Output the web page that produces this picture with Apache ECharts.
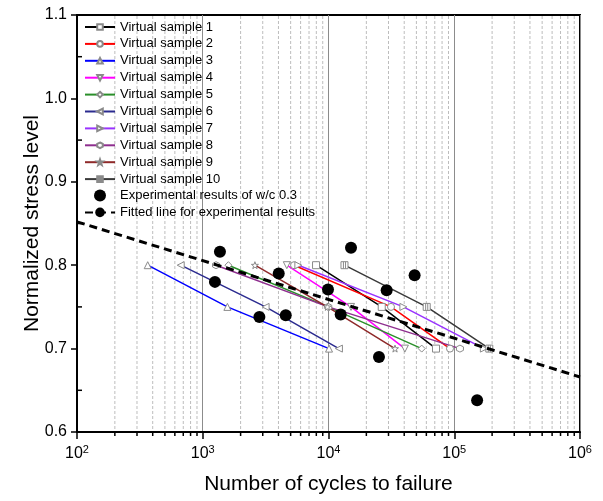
<!DOCTYPE html>
<html>
<head>
<meta charset="utf-8">
<script src="https://cdn.jsdelivr.net/npm/echarts@6/dist/echarts.min.js"></script>
<style>html,body{margin:0;padding:0;background:#fff}#c{width:603px;height:501px}</style>
</head>
<body>
<div id="c"></div>
<script>
// ---- data ----
const stressLevels = [0.8, 0.75, 0.7];
const sampleNames = ['Virtual sample 1','Virtual sample 2','Virtual sample 3','Virtual sample 4','Virtual sample 5','Virtual sample 6','Virtual sample 7','Virtual sample 8','Virtual sample 9','Virtual sample 10'];
const s1 = [7960, 26500, 71600];
const s2 = [5320, 31400, 92500];
const s3 = [365, 1570, 10100];
const s4 = [4660, 15100, 40500];
const s5 = [1600, 9950, 55100];
const s6 = [668, 3160, 12100];
const s7 = [5760, 39400, 172000];
const s8 = [1275, 9950, 111000];
const s9 = [2600, 9800, 33800];
const s10 = [13400, 60400, 190000];
const expName = 'Experimental results of w/c 0.3';
const expCycles = [1370, 1250, 2820, 4570, 4020, 9910, 12500, 15100, 48400, 29000, 25200, 152000];
const expStress = [0.816, 0.780, 0.738, 0.740, 0.790, 0.771, 0.741, 0.821, 0.788, 0.770, 0.690, 0.638];
const fitName = 'Fitted line for experimental results';
const fitCycles = [100, 1000000];
const fitStress = [0.852, 0.666];
const xMinorTickValues = [200,300,400,500,600,700,800,900,2000,3000,4000,5000,6000,7000,8000,9000,20000,30000,40000,50000,60000,70000,80000,90000,200000,300000,400000,500000,600000,700000,800000,900000];
const yMinorTickValues = [0.65, 0.75, 0.85, 0.95, 1.05];
const superscripts = {100:'2',1000:'3',10000:'4',100000:'5',1000000:'6'};

// ---- styles ----
const colors = ['#000000','#ff0000','#0000ff','#ff00ff','#2a8f2a','#2b2b8f','#9933ff','#8f2f8f','#8f2a2a','#3a3a3a'];
const symbols = [
  'rect','circle','triangle',
  'path://M-10,-9 L10,-9 L0,9 Z',
  'diamond',
  'path://M-9,0 L9,-10 L9,10 Z',
  'path://M9,0 L-9,-10 L-9,10 Z',
  'path://M0,-10 L8.66,-5 L8.66,5 L0,10 L-8.66,5 L-8.66,-5 Z',
  'path://M0,-10 L2.35,-3.24 L9.51,-3.09 L3.8,1.24 L5.88,8.09 L0,4 L-5.88,8.09 L-3.8,1.24 L-9.51,-3.09 L-2.35,-3.24 Z',
  'path://M-10,-10 L10,-10 L10,10 L-10,10 Z M-3,-10 L-3,10 M3,-10 L3,10'
];
const samples = [s1,s2,s3,s4,s5,s6,s7,s8,s9,s10];
const FONT = '"Liberation Sans", Arial, sans-serif';

const series = [];
series.push({
  type: 'custom', name: 'xMinor', silent: true, clip: false, z: 1,
  data: xMinorTickValues.map(v => [v]),
  encode: {x: 0},
  renderItem: function (params, api) {
    const x = api.value(0);
    const top = api.coord([x, 1.1]);
    const bot = api.coord([x, 0.6]);
    return {type: 'group', children: [
      {type: 'line', shape: {x1: top[0], y1: top[1] + 1, x2: bot[0], y2: bot[1] - 1},
       style: {stroke: '#bdbdbd', lineWidth: 1, lineDash: [3, 2]}},
      {type: 'line', shape: {x1: bot[0], y1: bot[1], x2: bot[0], y2: bot[1] + 4},
       style: {stroke: '#000', lineWidth: 1.5}}
    ]};
  }
});
series.push({
  type: 'custom', name: 'yMinor', silent: true, clip: false, z: 6,
  data: yMinorTickValues.map(v => [100, v]),
  encode: {x: 0, y: 1},
  renderItem: function (params, api) {
    const p = api.coord([api.value(0), api.value(1)]);
    return {type: 'line', shape: {x1: p[0], y1: p[1], x2: p[0] + 5, y2: p[1]},
      style: {stroke: '#000', lineWidth: 1.5}};
  }
});
samples.forEach((s, i) => {
  series.push({
    type: 'line', name: sampleNames[i], z: 3,
    data: s.map((n, k) => [n, stressLevels[k]]),
    symbol: symbols[i], symbolSize: 7,
    lineStyle: {color: colors[i], width: 1.5},
    itemStyle: {color: '#ffffff', borderColor: '#8a8a8a', borderWidth: 1},
    emphasis: {disabled: true}
  });
});
series.push({
  type: 'scatter', name: expName, z: 4,
  data: expCycles.map((n, k) => [n, expStress[k]]),
  symbol: 'circle', symbolSize: 12,
  itemStyle: {color: '#000', opacity: 1}
});
series.push({
  type: 'line', name: fitName, z: 5,
  data: fitCycles.map((n, k) => [n, fitStress[k]]),
  showSymbol: false, symbol: 'none',
  itemStyle: {color: '#000'},
  lineStyle: {color: '#000', width: 3, type: [8, 5]}
});

const legendText = {fontFamily: FONT, fontSize: 13, color: '#000', lineHeight: 13};
const option = {
  animation: false,
  grid: {left: 77, right: 23, top: 15, bottom: 69, show: true, borderColor: '#000', borderWidth: 2, backgroundColor: 'transparent'},
  legend: [{
    orient: 'vertical', left: 84, top: 20.5, padding: 0,
    itemWidth: 30, itemHeight: 7, itemGap: 3.9,
    data: sampleNames,
    textStyle: legendText,
    selectedMode: false
  }, {
    orient: 'vertical', left: 84, top: 189, padding: 0,
    itemWidth: 30, itemHeight: 12, itemGap: 3.9,
    data: [expName, fitName],
    textStyle: legendText,
    itemStyle: {opacity: 1},
    selectedMode: false
  }],
  xAxis: {
    type: 'log', logBase: 10, min: 100, max: 1000000,
    name: 'Number of cycles to failure', nameLocation: 'middle', nameGap: 42, nameMoveOverlap: false,
    nameTextStyle: {fontFamily: FONT, fontSize: 21, color: '#000'},
    axisLine: {show: true, onZero: false, lineStyle: {color: '#000', width: 2}},
    axisTick: {show: true, inside: false, length: 7, lineStyle: {color: '#000', width: 1.5}},
    splitLine: {show: true, lineStyle: {color: '#8c8c8c', width: 1}},
    axisLabel: {
      margin: 12, color: '#000',
      formatter: function (v) { return '{a|10}{b|' + (superscripts[Math.round(v)] || '') + '}'; },
      rich: {
        a: {fontFamily: FONT, fontSize: 16, color: '#000'},
        b: {fontFamily: FONT, fontSize: 11, color: '#000', padding: [0, 0, 9, 0]}
      }
    }
  },
  yAxis: {
    type: 'value', min: 0.6, max: 1.1, interval: 0.1,
    name: 'Normalized stress level', nameLocation: 'middle', nameGap: 34, nameMoveOverlap: false,
    nameTextStyle: {fontFamily: FONT, fontSize: 21, color: '#000'},
    axisLine: {show: true, lineStyle: {color: '#000', width: 2}},
    axisTick: {show: true, inside: false, length: 6, lineStyle: {color: '#000', width: 1.5}},
    splitLine: {show: false},
    axisLabel: {margin: 10, fontFamily: FONT, fontSize: 16, color: '#000', formatter: v => v.toFixed(1)}
  },
  series: series
};
const chart = echarts.init(document.getElementById('c'), null, {renderer: 'canvas'});
chart.setOption(option);
</script>
</body>
</html>
